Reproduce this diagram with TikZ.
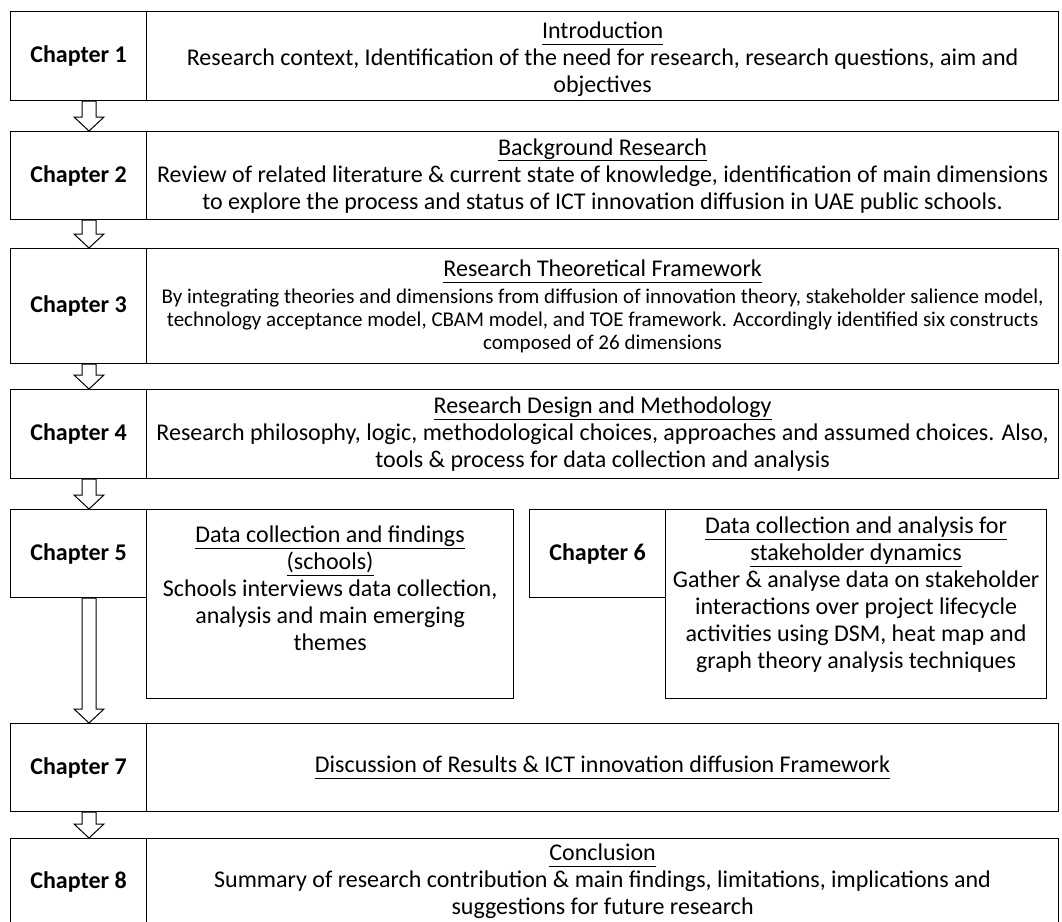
\documentclass[tikz,border=0pt]{standalone}
\usepackage{fontspec}
\setmainfont{Carlito}
\usetikzlibrary{calc}

% underlined heading with a fixed underline depth
\newcommand{\ttl}[1]{\underline{#1\vphantom{gy}}}
% smaller body text used in the framework row
\newcommand{\smtxt}{\fontsize{21}{23}\selectfont}

% hollow block arrow from one anchor down to another
\newcommand{\blockarrow}[2]{%
  \draw[blockarr] let \p1=(#1), \p2=(#2) in
    (\x1-7pt,\y1) -- (\x1-7pt,\y2+14pt) -- (\x1-15pt,\y2+14pt) -- (\x1,\y2)
    -- (\x1+15pt,\y2+14pt) -- (\x1+7pt,\y2+14pt) -- (\x1+7pt,\y1) -- cycle;}

\begin{document}
\begin{tikzpicture}[x=1pt,y=-1pt,
  box/.style={draw, line width=1.2pt, anchor=north west, inner sep=0pt,
    align=center, font=\fontsize{24}{27}\selectfont},
  chap/.style={box, minimum width=136pt, font=\fontsize{24}{27}\selectfont\bfseries},
  wide/.style={box, minimum width=912pt},
  plain/.style={inner sep=0pt, align=center, font=\fontsize{24}{27}\selectfont},
  blockarr/.style={draw, fill=white, line width=1pt, line join=miter}]

\fill[white] (0,0) rectangle (1062,921);
\useasboundingbox (0,0) rectangle (1062,921);

% chapter rows
\node[chap, minimum height=89pt] (c1) at (10,11) {Chapter 1};
\node[box, minimum width=912pt, minimum height=89pt] (r1) at (146,11) {};
\node[plain] (t1) at ($(r1.center)+(0,3)$)
  {\ttl{Introduction}\\Research context, Identification of the need for research, research questions, aim and\\objectives};

\node[chap, minimum height=88pt] (c2) at (10,131) {Chapter 2};
\node[wide, minimum height=88pt] (r2) at (146,131)
  {\ttl{Background Research}\\Review of related literature \& current state of knowledge, identification of main dimensions\\to explore the process and status of ICT innovation diffusion in UAE public schools.};

\node[chap, minimum height=115pt] (c3) at (10,248) {Chapter 3};
\node[wide, minimum height=115pt] (r3) at (146,248)
  {\ttl{Research Theoretical Framework}\\
   \smtxt By integrating theories and dimensions from diffusion of innovation theory, stakeholder salience model,\\[-4pt]
   \smtxt technology acceptance model, CBAM model, and TOE framework. Accordingly identified six constructs\\[-4pt]
   \smtxt composed of 26 dimensions};

\node[chap, minimum height=89pt] (c4) at (10,389) {Chapter 4};
\node[wide, minimum height=89pt] (r4) at (146,389)
  {\ttl{Research Design and Methodology}\\Research philosophy, logic, methodological choices, approaches and assumed choices. Also,\\tools \& process for data collection and analysis};

% chapters 5 and 6 side by side
\node[chap, minimum height=88pt] (c5) at (10,509) {Chapter 5};
\node[box, minimum width=367pt, minimum height=189pt] (r5) at (146,509) {};
\node[plain, anchor=north] (t5) at ($(r5.north)+(0,17)$)
  {\ttl{Data collection and findings}\\\ttl{(schools)}\\Schools interviews data collection,\\analysis and main emerging\\themes};

\node[chap, minimum height=88pt] (c6) at (529,509) {Chapter 6};
\node[box, minimum width=381pt, minimum height=189pt] (r6) at (665,509) {};
\node[plain, anchor=north] (t6) at ($(r6.north)+(0,8)$)
  {\ttl{Data collection and analysis for}\\\ttl{stakeholder dynamics}\\Gather \& analyse data on stakeholder\\interactions over project lifecycle\\activities using DSM, heat map and\\graph theory analysis techniques};

\node[chap, minimum height=88pt] (c7) at (10,723) {Chapter 7};
\node[wide, minimum height=88pt] (r7) at (146,723)
  {\ttl{Discussion of Results \& ICT innovation diffusion Framework}};

% last row runs off the bottom edge
\node[chap, minimum height=86pt] (c8) at (10,838) {Chapter 8};
\node[wide, minimum height=86pt] (r8) at (146,838)
  {\ttl{Conclusion}\\Summary of research contribution \& main findings, limitations, implications and\\suggestions for future research};

% flow arrows down the left column
\coordinate (ax) at (89,0);
\blockarrow{ax |- c1.south}{ax |- c2.north}
\blockarrow{ax |- c2.south}{ax |- c3.north}
\blockarrow{ax |- c3.south}{ax |- c4.north}
\blockarrow{ax |- c4.south}{ax |- c5.north}
\blockarrow{ax |- c5.south}{ax |- c7.north}
\blockarrow{ax |- c7.south}{ax |- c8.north}
\end{tikzpicture}
\end{document}
